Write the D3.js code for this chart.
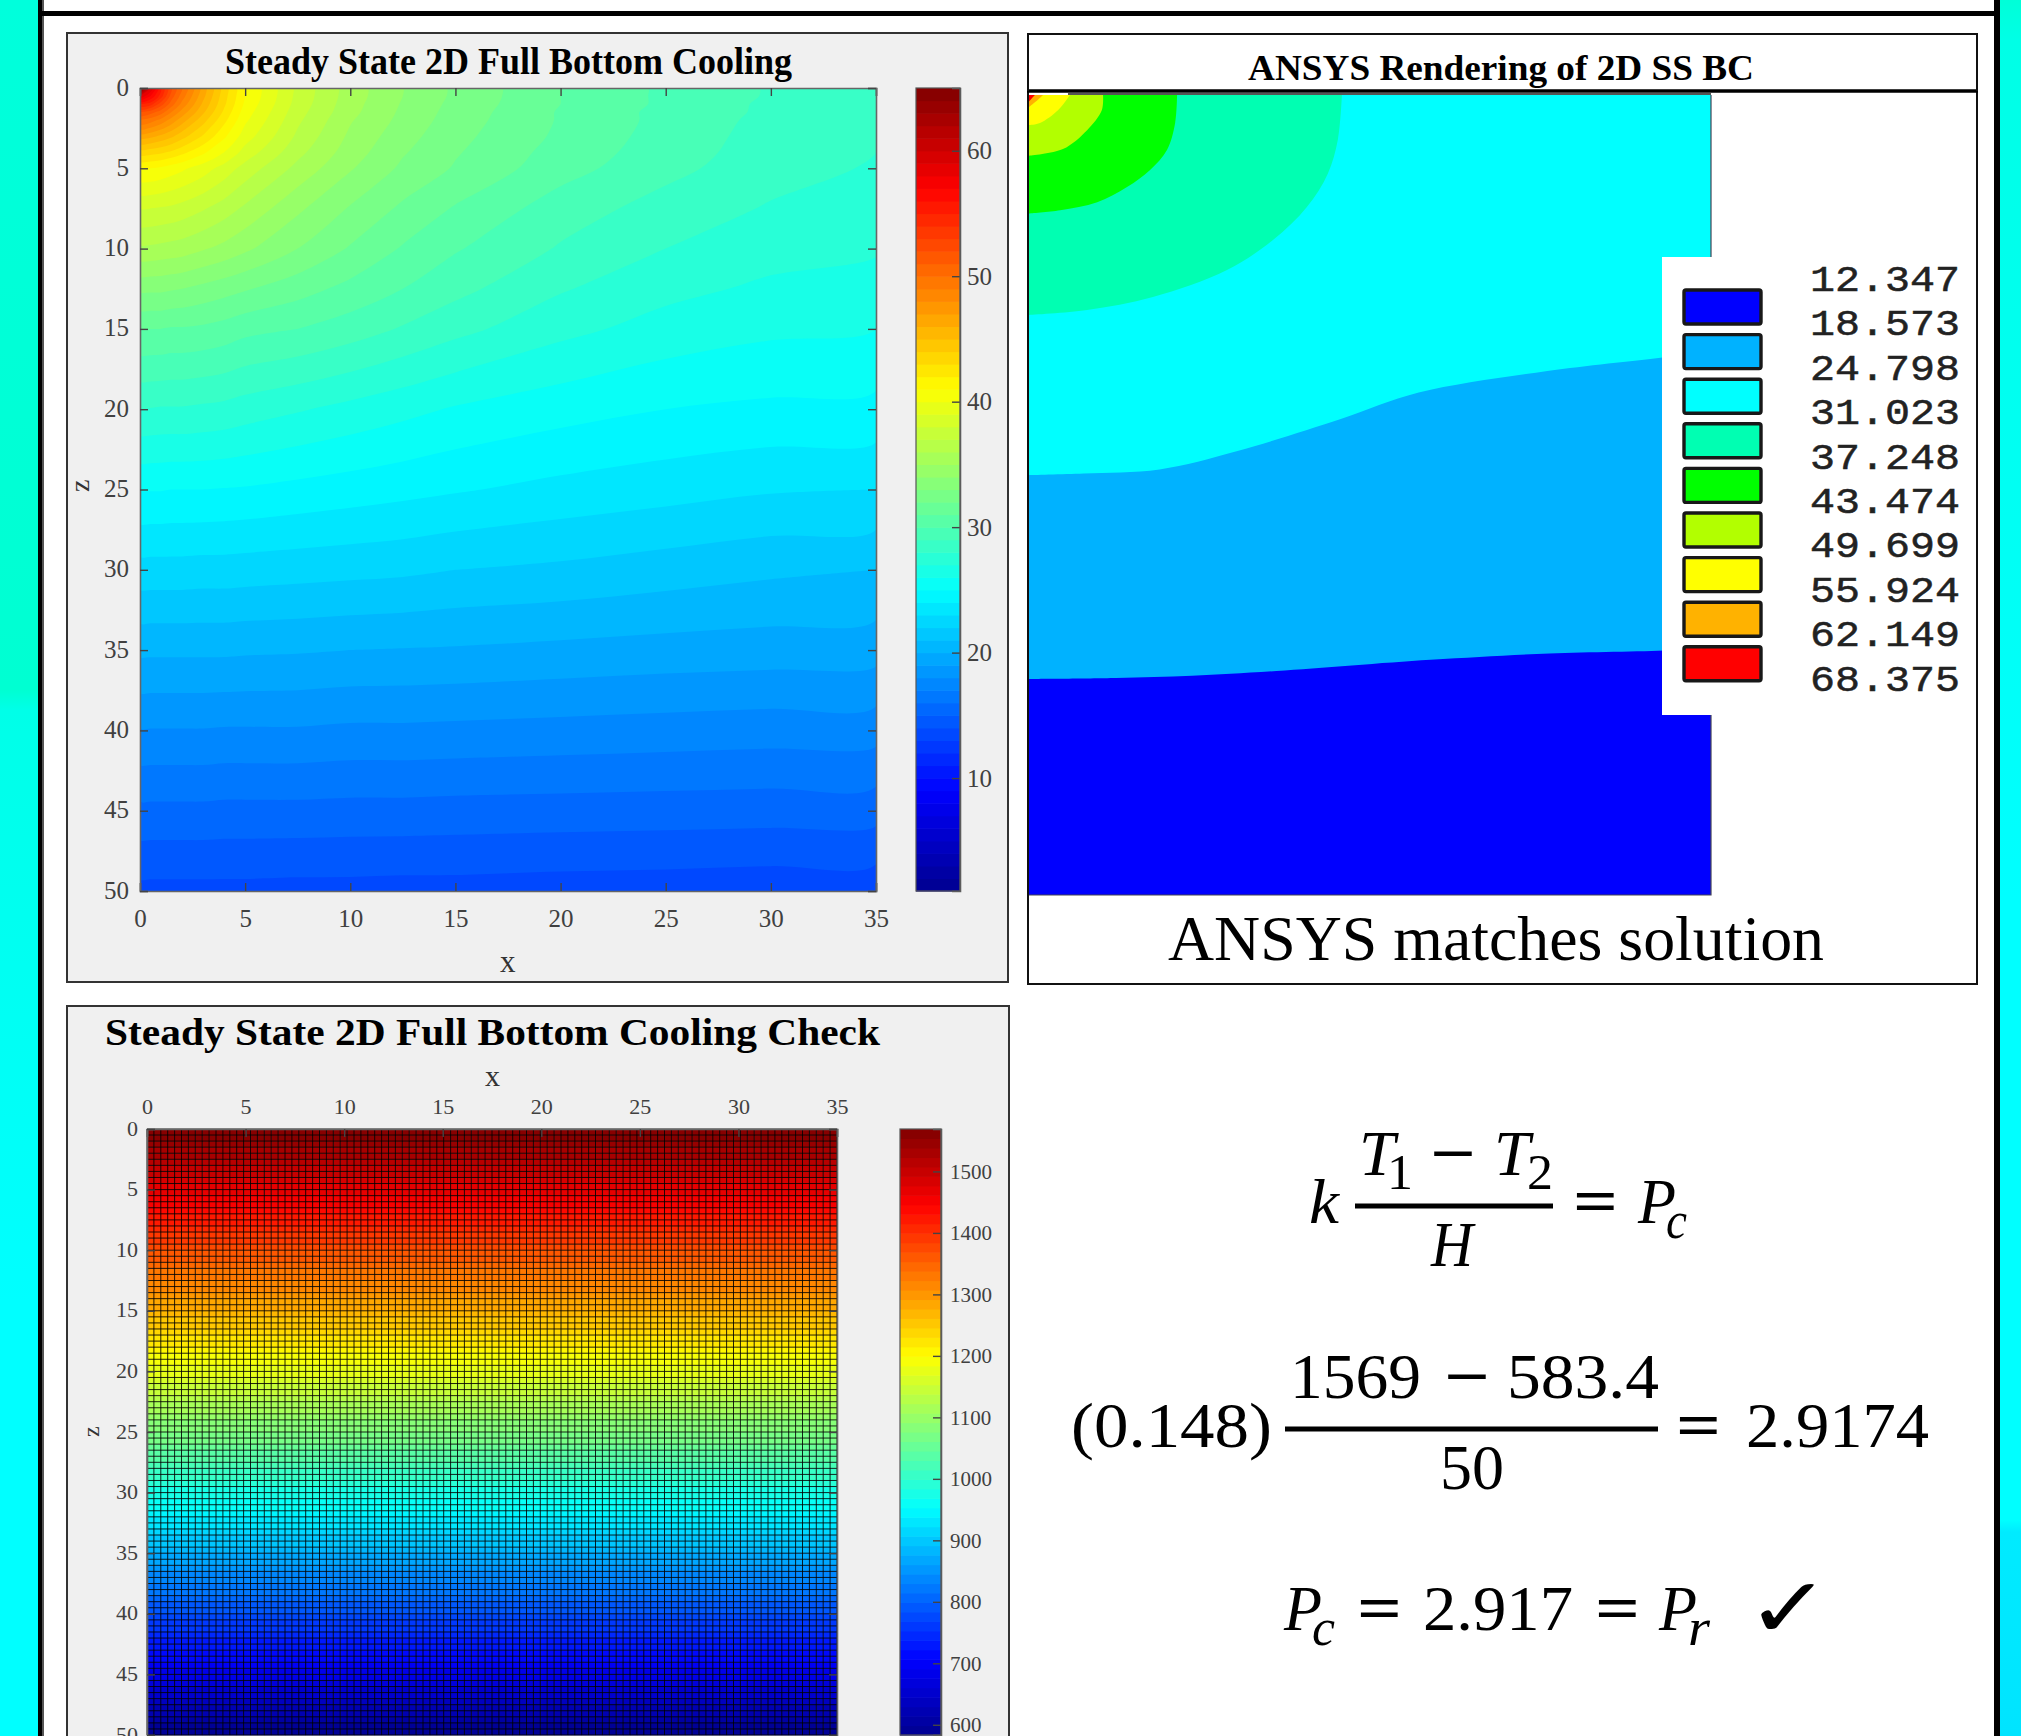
<!DOCTYPE html>
<html>
<head>
<meta charset="utf-8">
<script src="https://cdn.jsdelivr.net/npm/d3@7"></script>
<style>
  html, body { margin: 0; padding: 0; background: #fff; overflow: hidden; }
  text { font-family: "Liberation Serif", serif; }
</style>
</head>
<body>
<script>
var width = 2021,
    height = 1736;

// --- steady state field (rows = z, columns = x)
var fieldX = [0, 0.5, 1, 1.5, 2, 3, 4, 5, 7.5, 10, 12.5, 15, 20, 25, 30, 35];
var fieldZ = [0, 0.5, 1, 1.5, 2, 3, 4, 5, 7.5, 10, 12.5, 15, 20, 25, 30, 35, 40, 45, 50];
var fieldRows = [
  [65, 59, 55, 52, 50, 46.5, 43.5, 41, 37.7, 35.5, 34, 32.8, 31, 29.8, 28.9, 28.3],
  [59, 57, 54.5, 51.5, 49.5, 46.3, 43.4, 41, 37.7, 35.5, 34, 32.8, 31, 29.8, 28.9, 28.3],
  [55, 54.5, 52.5, 50.5, 48.7, 45.8, 43.2, 40.8, 37.6, 35.4, 33.9, 32.7, 31, 29.8, 28.8, 28.3],
  [52, 51.5, 50.5, 49, 47.6, 45.2, 42.8, 40.5, 37.4, 35.3, 33.8, 32.6, 30.9, 29.7, 28.8, 28.2],
  [50, 49.5, 48.7, 47.6, 46.5, 44.4, 42.3, 40.2, 37.2, 35.1, 33.7, 32.5, 30.9, 29.7, 28.7, 28.2],
  [46.5, 46.3, 45.8, 45.2, 44.4, 42.9, 41.2, 39.5, 36.8, 34.8, 33.4, 32.3, 30.8, 29.6, 28.6, 28.1],
  [43.5, 43.4, 43.2, 42.8, 42.3, 41.2, 40, 38.6, 36.3, 34.5, 33.1, 32.1, 30.6, 29.5, 28.5, 28],
  [41, 41, 40.8, 40.5, 40.2, 39.5, 38.6, 37.6, 35.7, 34.1, 32.8, 31.9, 30.4, 29.3, 28.4, 27.9],
  [38, 38, 37.9, 37.8, 37.6, 37.1, 36.5, 35.8, 34.2, 32.9, 31.8, 30.9, 29.5, 28.6, 27.9, 27.5],
  [35.8, 35.8, 35.7, 35.6, 35.5, 35.1, 34.7, 34.2, 33, 31.9, 30.9, 30.1, 28.9, 28, 27.4, 27.1],
  [33.2, 33.2, 33.2, 33.1, 33, 32.7, 32.4, 32.1, 31.4, 30.7, 30, 29.3, 28.1, 27.3, 26.8, 26.6],
  [31, 31, 31, 30.9, 30.9, 30.8, 30.6, 30.3, 30, 29.5, 28.9, 28.3, 27.3, 26.6, 26.2, 26],
  [27.95, 27.95, 27.9, 27.9, 27.9, 27.8, 27.7, 27.5, 27.1, 26.7, 26.3, 25.9, 25.4, 25, 24.8, 24.7],
  [25.05, 25.05, 25.05, 25, 25, 25, 24.95, 24.9, 24.7, 24.5, 24.3, 24.1, 23.7, 23.4, 23.1, 23],
  [22.6, 22.6, 22.6, 22.6, 22.6, 22.55, 22.55, 22.5, 22.4, 22.3, 22.2, 22, 21.8, 21.5, 21.2, 21],
  [20.2, 20.2, 20.2, 20.2, 20.2, 20.2, 20.2, 20.15, 20.1, 20, 19.95, 19.9, 19.75, 19.6, 19.5, 19.4],
  [17.95, 17.95, 17.95, 17.95, 17.95, 17.95, 17.9, 17.9, 17.9, 17.8, 17.8, 17.75, 17.65, 17.55, 17.45, 17.4],
  [15.75, 15.75, 15.75, 15.75, 15.75, 15.75, 15.7, 15.7, 15.7, 15.65, 15.65, 15.6, 15.55, 15.5, 15.45, 15.4],
  [13.7, 13.7, 13.7, 13.7, 13.7, 13.7, 13.7, 13.7, 13.65, 13.65, 13.6, 13.6, 13.5, 13.45, 13.35, 13.3]
];
var fieldDomain = [1, 65];
var fieldBarTicks = [10, 20, 30, 40, 50, 60];
var xTicks = [0, 5, 10, 15, 20, 25, 30, 35];
var zTicks = [0, 5, 10, 15, 20, 25, 30, 35, 40, 45, 50];

// --- ANSYS contour edges, [x, z]
var blueEdge = [[0, 36.5], [4.46, 36.44], [8.36, 36.3], [12.7, 36], [20.6, 35.3], [26.7, 34.9], [32.9, 34.7], [35, 34.5]];
var azureEdge = [[0, 23.75], [2.8, 23.65], [6.7, 23.4], [10.7, 22.25], [16, 20.25], [20, 18.6], [26.6, 17.25], [32.5, 16.4], [35, 16]];
var cyanEdge = [[16.06, 0], [15.85, 2.8], [15.34, 4.9], [14.26, 7], [12.52, 9.06], [10.16, 10.94], [6.36, 12.63], [2.98, 13.44], [0, 13.75]];
var tealEdge = [[7.6, 0], [7.5, 1.75], [7.08, 3.44], [6.2, 4.7], [5.03, 5.75], [3.5, 6.7], [1.6, 7.2], [0, 7.4]];
var greenEdge = [[3.8, 0], [3.74, 0.94], [2.98, 2.2], [1.74, 3.38], [0, 3.8]];
var limeEdge = [[2.1, 0], [1.5, 0.94], [0.56, 1.75], [0, 1.88]];
var yellowEdge = [[0.72, 0], [0.46, 0.3], [0, 0.75]];
var orangeEdge = [[0.3, 0], [0, 0.4]];
var legendLabels = ["12.347", "18.573", "24.798", "31.023", "37.248", "43.474", "49.699", "55.924", "62.149", "68.375"];
var legendColors = ["#0000ff", "#00b2ff", "#00ffff", "#00ffb2", "#00ff00", "#b2ff00", "#ffff00", "#ffb200", "#ff0000"];

// --- check plot: 100 x 100 cells, temperature per row of cells
var checkX = d3.range(0, 35, 0.35);
var checkZ = d3.range(0, 50, 0.5);
var checkRows = [1564, 1554, 1544, 1535, 1525, 1515, 1505, 1495, 1485, 1475,
  1466, 1456, 1446, 1436, 1426, 1416, 1406, 1397, 1387, 1377,
  1367, 1357, 1347, 1337, 1328, 1318, 1308, 1298, 1288, 1278,
  1268, 1259, 1249, 1239, 1229, 1219, 1209, 1199, 1190, 1180,
  1170, 1160, 1150, 1140, 1130, 1121, 1111, 1101, 1091, 1081,
  1071, 1061, 1052, 1042, 1032, 1022, 1012, 1002, 992, 983,
  973, 963, 953, 943, 933, 923, 914, 904, 894, 884,
  874, 864, 854, 845, 835, 825, 815, 805, 795, 785,
  776, 766, 756, 746, 736, 726, 716, 707, 697, 687,
  677, 667, 657, 647, 637, 628, 618, 608, 598, 588];
var checkDomain = [583.4, 1569];
var checkBarTicks = [600, 700, 800, 900, 1000, 1100, 1200, 1300, 1400, 1500];

// jet colormap, 64 steps like matlab
var jet = d3.scaleLinear()
    .domain([0, 0.125, 0.375, 0.625, 0.875, 1])
    .range(["#00008f", "#0000ff", "#00ffff", "#ffff00", "#ff0000", "#800000"]);
var jet64 = d3.range(64).map(function(i) { return jet((i + 0.5) / 64); });

var svg = d3.select("body").append("svg")
    .attr("width", width)
    .attr("height", height)
    .style("display", "block");

var defs = svg.append("defs");

function sideGradient(id, stops) {
  defs.append("linearGradient").attr("id", id)
      .attr("gradientUnits", "userSpaceOnUse")
      .attr("x1", 0).attr("y1", 0).attr("x2", 0).attr("y2", height)
    .selectAll("stop").data(stops).join("stop")
      .attr("offset", function(d) { return d[0] / height; })
      .attr("stop-color", function(d) { return d[1]; });
}
sideGradient("sideL", [[0, "#00ffdc"], [690, "#00ffd2"], [710, "#00ffe8"], [1300, "#00ffff"], [1736, "#00ffff"]]);
sideGradient("sideR", [[0, "#00ffd8"], [40, "#00ffe6"], [900, "#00ffff"], [1520, "#00ffff"], [1532, "#00ebff"], [1736, "#00e4ff"]]);

// page frame
svg.append("rect").attr("x", 0).attr("y", 0).attr("width", 38).attr("height", height).attr("fill", "url(#sideL)");
svg.append("rect").attr("x", 2000).attr("y", 0).attr("width", 21).attr("height", height).attr("fill", "url(#sideR)");
svg.append("rect").attr("x", 38).attr("y", 0).attr("width", 4).attr("height", height).attr("fill", "#000");
svg.append("rect").attr("x", 42).attr("y", 0).attr("width", 2).attr("height", height).attr("fill", "#555");
svg.append("rect").attr("x", 1994).attr("y", 0).attr("width", 6).attr("height", height).attr("fill", "#000");
svg.append("rect").attr("x", 38).attr("y", 11).attr("width", 1962).attr("height", 5).attr("fill", "#000");

function put(str, x, y, size, w, opts) {
  opts = opts || {};
  var t = svg.append("text")
      .attr("x", x).attr("y", y)
      .attr("font-size", size)
      .attr("fill", opts.fill || "#000")
      .attr("font-style", opts.italic ? "italic" : null)
      .attr("font-weight", opts.bold ? "bold" : null)
      .style("font-family", opts.family || null)
      .text(str);
  if (w) t.attr("textLength", w).attr("lengthAdjust", "spacingAndGlyphs");
  return t;
}

function styleAxis(g, size) {
  g.selectAll(".domain").attr("stroke", "#666").attr("stroke-width", 1.6);
  g.selectAll(".tick line").attr("stroke", "#444").attr("stroke-width", 1.4);
  g.selectAll(".tick text")
      .attr("fill", "#404040")
      .attr("font-size", size)
      .style("font-family", "Liberation Serif");
}

function colorBar(x0, x1, y, domain, ticks, labelGap, fontSize) {
  var bands = d3.range(64);
  var step = (domain[1] - domain[0]) / 64;
  svg.append("g").selectAll("rect").data(bands).join("rect")
      .attr("x", x0)
      .attr("width", x1 - x0)
      .attr("y", function(d) { return y(domain[0] + (d + 1) * step); })
      .attr("height", function(d) { return y(domain[0] + d * step) - y(domain[0] + (d + 1) * step) + 0.6; })
      .attr("fill", function(d) { return jet64[d]; });
  svg.append("g").attr("transform", "translate(" + x1 + ",0)")
      .call(d3.axisRight(y).tickValues(ticks).tickSize(-8).tickPadding(labelGap).tickFormat(d3.format("d")))
      .call(styleAxis, fontSize);
  svg.append("rect")
      .attr("x", x0).attr("y", y.range()[1])
      .attr("width", x1 - x0).attr("height", y.range()[0] - y.range()[1])
      .attr("fill", "none").attr("stroke", "#555").attr("stroke-width", 1.2);
}

// ---------------- panel 1, contour field ----------------
svg.append("rect").attr("x", 67).attr("y", 33).attr("width", 941).attr("height", 949)
    .attr("fill", "#f0f0f0").attr("stroke", "#333").attr("stroke-width", 2);
put("Steady State 2D Full Bottom Cooling", 225, 74, 38, 567, {bold: true});

var x1 = d3.scaleLinear().domain([0, 35]).range([140, 876]);
var z1 = d3.scaleLinear().domain([0, 50]).range([88, 891]);

defs.append("clipPath").attr("id", "clipField").append("rect")
    .attr("x", x1(0)).attr("y", z1(0)).attr("width", x1(35) - x1(0)).attr("height", z1(50) - z1(0));

// grid index -> data value, contours puts the samples at index + 0.5
var ixToX = d3.scaleLinear().domain(fieldX.map(function(d, i) { return i + 0.5; })).range(fieldX).clamp(true);
var izToZ = d3.scaleLinear().domain(fieldZ.map(function(d, i) { return i + 0.5; })).range(fieldZ).clamp(true);
var levels = d3.range(fieldDomain[0], fieldDomain[1]);
var contours = d3.contours()
    .size([fieldX.length, fieldZ.length])
    .thresholds(levels)(fieldRows.flat());

// the grid is coarse so round off the iso lines
var ringLine = d3.line().curve(d3.curveCatmullRomClosed.alpha(0.5));
function contourPath(c) {
  var out = "";
  c.coordinates.forEach(function(poly) {
    poly.forEach(function(ring) {
      var pts = [];
      ring.slice(0, -1).forEach(function(p) {
        var q = [x1(ixToX(p[0])), z1(izToZ(p[1]))];
        var prev = pts[pts.length - 1];
        if (!prev || Math.abs(prev[0] - q[0]) + Math.abs(prev[1] - q[1]) > 0.01) pts.push(q);
      });
      if (pts.length > 2) out += ringLine(pts);
    });
  });
  return out;
}

svg.append("g").attr("clip-path", "url(#clipField)")
  .selectAll("path").data(contours).join("path")
    .attr("d", contourPath)
    .attr("fill", function(d) { return jet64[d.value - fieldDomain[0]]; });

svg.append("g").attr("transform", "translate(0,891)")
    .call(d3.axisBottom(x1).tickValues(xTicks).tickSize(-8).tickPadding(18).tickFormat(d3.format("d")))
    .call(styleAxis, 25);
svg.append("g").attr("transform", "translate(0,88)")
    .call(d3.axisTop(x1).tickValues(xTicks).tickSize(-8).tickFormat(""))
    .call(styleAxis, 25);
svg.append("g").attr("transform", "translate(140,0)")
    .call(d3.axisLeft(z1).tickValues(zTicks).tickSize(-8).tickPadding(11).tickFormat(d3.format("d")))
    .call(styleAxis, 25)
    .call(function(g) { g.selectAll("text").attr("dy", "0.28em"); });
svg.append("g").attr("transform", "translate(876,0)")
    .call(d3.axisRight(z1).tickValues(zTicks).tickSize(-8).tickFormat(""))
    .call(styleAxis, 25);
put("x", 500, 972, 31, null, {fill: "#333"});
put("z", 0, 0, 28, null, {fill: "#333"}).attr("transform", "translate(89,492) rotate(-90)");

var y1Bar = d3.scaleLinear().domain(fieldDomain).range([891, 88]);
colorBar(916, 960, y1Bar, fieldDomain, fieldBarTicks, 7, 25);

// ---------------- panel 2, ANSYS rendering ----------------
svg.append("rect").attr("x", 1028).attr("y", 34).attr("width", 949).attr("height", 950)
    .attr("fill", "#fff").attr("stroke", "#111").attr("stroke-width", 2);

var xA = d3.scaleLinear().domain([0, 35]).range([1029, 1711]);
var zA = d3.scaleLinear().domain([0, 50]).range([95, 895]);
var edgeLine = d3.line()
    .x(function(d) { return xA(d[0]); })
    .y(function(d) { return zA(d[1]); })
    .curve(d3.curveCatmullRom.alpha(0.5));
var cornerLine = d3.line()
    .x(function(d) { return xA(d[0]); })
    .y(function(d) { return zA(d[1]); });

function bandPath(edge) {
  var last = edge[edge.length - 1];
  var corners = last[0] === 35 ? [[35, 0], [0, 0]] : [[0, 0]];
  return edgeLine(edge) + "L" + cornerLine(corners).slice(1) + "Z";
}
var ansysEdges = [blueEdge, azureEdge, cyanEdge, tealEdge, greenEdge, limeEdge, yellowEdge, orangeEdge];

svg.append("path")
    .attr("d", cornerLine([[0, 0], [35, 0], [35, 50], [0, 50]]) + "Z")
    .attr("fill", legendColors[0]);
svg.append("g").selectAll("path").data(ansysEdges).join("path")
    .attr("d", bandPath)
    .attr("fill", function(d, i) { return legendColors[i + 1]; });
svg.append("path")
    .attr("d", cornerLine([[0, 50], [35, 50], [35, 0]]))
    .attr("fill", "none").attr("stroke", "#445").attr("stroke-width", 1.2);
svg.append("line").attr("x1", xA(2)).attr("x2", xA(35)).attr("y1", 94).attr("y2", 94)
    .attr("stroke", "#555").attr("stroke-width", 2);

// title strip sits over the top of the plot
svg.append("rect").attr("x", 1028).attr("y", 34).attr("width", 949).attr("height", 57)
    .attr("fill", "#fff");
svg.append("line").attr("x1", 1027).attr("x2", 1978).attr("y1", 91).attr("y2", 91)
    .attr("stroke", "#000").attr("stroke-width", 3.5);
svg.append("path").attr("d", "M1028,91V34H1977V91")
    .attr("fill", "none").attr("stroke", "#111").attr("stroke-width", 2);
put("ANSYS Rendering of 2D SS BC", 1248, 80, 36, 506, {bold: true});

// legend block
svg.append("rect").attr("x", 1662).attr("y", 257).attr("width", 314).attr("height", 458).attr("fill", "#fff");
svg.append("g").selectAll("rect").data(legendColors).join("rect")
    .attr("x", 1684).attr("width", 77).attr("height", 34).attr("rx", 2)
    .attr("y", function(d, i) { return 290 + i * 44.6; })
    .attr("fill", function(d) { return d; })
    .attr("stroke", "#181818").attr("stroke-width", 3.4);
svg.append("g").selectAll("text").data(legendLabels).join("text")
    .attr("x", 1810).attr("y", function(d, i) { return 291 + i * 44.4; })
    .attr("font-size", 36)
    .attr("textLength", 150).attr("lengthAdjust", "spacingAndGlyphs")
    .attr("fill", "#222")
    .attr("stroke", "#222").attr("stroke-width", 0.5)
    .style("font-family", "Liberation Mono")
    .text(function(d) { return d; });

put("ANSYS matches solution", 1168, 960, 64, 656);

// ---------------- panel 3, check plot ----------------
svg.append("rect").attr("x", 67).attr("y", 1006).attr("width", 942).attr("height", 760)
    .attr("fill", "#f0f0f0").attr("stroke", "#333").attr("stroke-width", 2);
put("Steady State 2D Full Bottom Cooling Check", 105, 1045, 38, 775, {bold: true});

var x3 = d3.scaleLinear().domain([0, 35]).range([147, 837]);
var z3 = d3.scaleLinear().domain([0, 50]).range([1129, 1735]);
var bandColor = d3.scaleQuantize().domain(checkDomain).range(jet64);

var cells = d3.cross(d3.range(checkRows.length), checkX);
svg.append("g").selectAll("rect").data(cells).join("rect")
    .attr("x", function(d) { return x3(d[1]); })
    .attr("y", function(d) { return z3(checkZ[d[0]]); })
    .attr("width", x3(0.35) - x3(0) + 0.3)
    .attr("height", z3(0.5) - z3(0) + 0.3)
    .attr("fill", function(d) { return bandColor(checkRows[d[0]]); });

svg.append("g").selectAll("line").data(checkX.concat([35])).join("line")
    .attr("x1", function(d) { return x3(d); }).attr("x2", function(d) { return x3(d); })
    .attr("y1", z3(0)).attr("y2", z3(50))
    .attr("stroke", "#000").attr("stroke-width", 1).attr("stroke-opacity", 0.85);
svg.append("g").selectAll("line").data(checkZ.concat([50])).join("line")
    .attr("y1", function(d) { return z3(d); }).attr("y2", function(d) { return z3(d); })
    .attr("x1", x3(0)).attr("x2", x3(35))
    .attr("stroke", "#000").attr("stroke-width", 1).attr("stroke-opacity", 0.85);

svg.append("g").attr("transform", "translate(0,1129)")
    .call(d3.axisTop(x3).tickValues(xTicks).tickSize(-8).tickPadding(15).tickFormat(d3.format("d")))
    .call(styleAxis, 22);
svg.append("g").attr("transform", "translate(147,0)")
    .call(d3.axisLeft(z3).tickValues(zTicks).tickSize(-8).tickPadding(9).tickFormat(d3.format("d")))
    .call(styleAxis, 22)
    .call(function(g) { g.selectAll("text").attr("dy", "0.28em"); });
svg.append("g").attr("transform", "translate(837,0)")
    .call(d3.axisRight(z3).tickValues(zTicks).tickSize(-8).tickFormat(""))
    .call(styleAxis, 22);
put("x", 485, 1086, 30, null, {fill: "#333"});
put("z", 0, 0, 24, null, {fill: "#333"}).attr("transform", "translate(99,1437) rotate(-90)");

var y3Bar = d3.scaleLinear().domain(checkDomain).range([1735, 1129]);
colorBar(900, 941, y3Bar, checkDomain, checkBarTicks, 9, 21);

// ---------------- equations ----------------
function bar(x0, x1, y) {
  svg.append("rect").attr("x", x0).attr("width", x1 - x0).attr("y", y - 2.5).attr("height", 5).attr("fill", "#000");
}
var it = {italic: true};
var heavy = {bold: true};

put("k", 1309, 1223, 64, 30, it);
put("T", 1359, 1175, 64, 36, it);
put("1", 1387, 1189, 50, 26);
put("\u2212", 1430, 1175, 64, 46, heavy);
put("T", 1494, 1175, 64, 36, it);
put("2", 1527, 1189, 50, 26);
bar(1355, 1553, 1206);
put("H", 1431, 1266, 64, 42, it);
put("=", 1573, 1223, 64, 45, heavy);
put("P", 1638, 1223, 64, 38, it);
put("c", 1666, 1238, 52, 21, it);

put("(0.148)", 1071, 1447, 64, 201);
put("1569", 1290, 1398, 64, 131);
put("\u2212", 1444, 1398, 64, 46, heavy);
put("583.4", 1507, 1398, 64, 152);
bar(1285, 1658, 1429);
put("50", 1440, 1489, 64, 64);
put("=", 1676, 1447, 64, 45, heavy);
put("2.9174", 1746, 1447, 64, 183);

put("P", 1284, 1630, 64, 38, it);
put("c", 1312, 1645, 52, 23, it);
put("=", 1357, 1630, 64, 45, heavy);
put("2.917", 1423, 1630, 64, 150);
put("=", 1595, 1630, 64, 45, heavy);
put("P", 1659, 1630, 64, 38, it);
put("r", 1688, 1645, 52, 22, it);
put("\u2713", 1746, 1637, 84, 85, {family: "DejaVu Sans"});
</script>
</body>
</html>
